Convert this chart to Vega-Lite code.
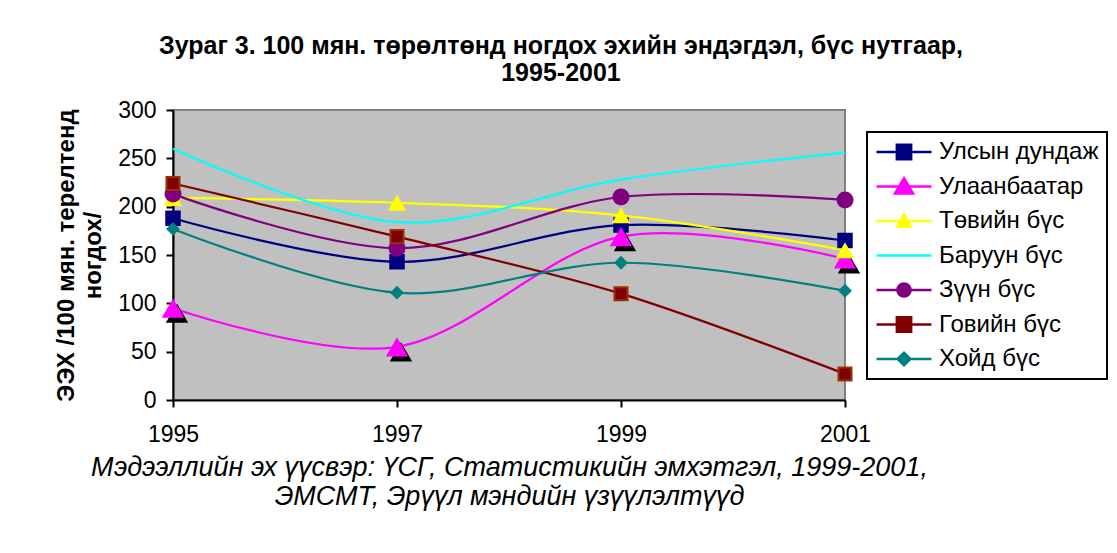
{
  "$schema": "https://vega.github.io/schema/vega-lite/v6.json",
  "width": 672,
  "height": 290,
  "autosize": {"type": "none"},
  "padding": {"left": 173, "top": 110, "right": 272, "bottom": 153},
  "background": "white",
  "title": {
    "text": ["Зураг 3. 100 мян. төрөлтөнд ногдох эхийн эндэгдэл, бүс нутгаар,", "1995-2001"],
    "font": "Liberation Sans",
    "fontSize": 25,
    "fontWeight": "bold",
    "lineHeight": 27,
    "color": "black",
    "anchor": "middle",
    "frame": "group",
    "dx": 52,
    "offset": 13
  },
  "data": {
    "values": [
      {"year": "1995", "series": "Улсын дундаж", "value": 188},
      {"year": "1997", "series": "Улсын дундаж", "value": 143},
      {"year": "1999", "series": "Улсын дундаж", "value": 181},
      {"year": "2001", "series": "Улсын дундаж", "value": 165},
      {"year": "1995", "series": "Улаанбаатар", "value": 95},
      {"year": "1997", "series": "Улаанбаатар", "value": 55},
      {"year": "1999", "series": "Улаанбаатар", "value": 169},
      {"year": "2001", "series": "Улаанбаатар", "value": 146},
      {"year": "1995", "series": "Төвийн бүс", "value": 209},
      {"year": "1997", "series": "Төвийн бүс", "value": 204},
      {"year": "1999", "series": "Төвийн бүс", "value": 191},
      {"year": "2001", "series": "Төвийн бүс", "value": 155},
      {"year": "1995", "series": "Баруун бүс", "value": 260},
      {"year": "1997", "series": "Баруун бүс", "value": 184},
      {"year": "1999", "series": "Баруун бүс", "value": 228},
      {"year": "2001", "series": "Баруун бүс", "value": 256},
      {"year": "1995", "series": "Зүүн бүс", "value": 213},
      {"year": "1997", "series": "Зүүн бүс", "value": 157},
      {"year": "1999", "series": "Зүүн бүс", "value": 210},
      {"year": "2001", "series": "Зүүн бүс", "value": 207},
      {"year": "1995", "series": "Говийн бүс", "value": 224},
      {"year": "1997", "series": "Говийн бүс", "value": 169},
      {"year": "1999", "series": "Говийн бүс", "value": 110},
      {"year": "2001", "series": "Говийн бүс", "value": 27},
      {"year": "1995", "series": "Хойд бүс", "value": 177},
      {"year": "1997", "series": "Хойд бүс", "value": 111},
      {"year": "1999", "series": "Хойд бүс", "value": 142},
      {"year": "2001", "series": "Хойд бүс", "value": 113}
    ]
  },
  "encoding": {
    "x": {
      "field": "year",
      "type": "ordinal",
      "scale": {"type": "point", "padding": 0},
      "axis": {
        "labelAngle": 0,
        "labelPadding": 16,
        "title": ["Мэдээллийн эх үүсвэр: ҮСГ, Статистикийн эмхэтгэл, 1999-2001,", "ЭМСМТ, Эрүүл мэндийн үзүүлэлтүүд"],
        "titleFontStyle": "italic",
        "titleFontWeight": "normal",
        "titleFontSize": 27,
        "titleLineHeight": 29,
        "titlePadding": 8
      }
    },
    "y": {
      "field": "value",
      "type": "quantitative",
      "scale": {"domain": [0, 300], "nice": false},
      "axis": {
        "values": [0, 50, 100, 150, 200, 250, 300],
        "labelPadding": 10,
        "title": ["ЭЭХ /100 мян. терелтенд", "ногдох/"],
        "titleFontWeight": "bold",
        "titleFontSize": 24,
        "titleLineHeight": 27,
        "titlePadding": 12
      }
    }
  },
  "layer": [
    {
      "mark": {"type": "line", "interpolate": "cardinal", "tension": 0, "strokeWidth": 2.2},
      "encoding": {
        "color": {
          "field": "series",
          "type": "nominal",
          "sort": null,
          "scale": {
            "domain": ["Улсын дундаж", "Улаанбаатар", "Төвийн бүс", "Баруун бүс", "Зүүн бүс", "Говийн бүс", "Хойд бүс"],
            "range": ["#000080", "#FF00FF", "#FFFF00", "#00FFFF", "#800080", "#800000", "#008080"]
          },
          "legend": {
            "orient": "none",
            "legendX": 694,
            "legendY": 22,
            "title": null,
            "padding": 8,
            "strokeColor": "black",
            "fillColor": "white",
            "labelFont": "Liberation Sans",
            "labelFontSize": 24,
            "labelColor": "black",
            "labelOffset": 6,
            "symbolSize": 3025,
            "clipHeight": 24,
            "rowPadding": 10.5,
            "encode": {
              "legend": {"update": {"strokeWidth": {"value": 2}}},
              "symbols": {
                "update": {
                  "shape": {"signal": "datum.value === 'Улсын дундаж' ? 'M-1,0H1M-0.26,-0.26H0.26V0.26H-0.26Z' : datum.value === 'Улаанбаатар' ? 'M-1,0H1M0,-0.3L0.33,0.25H-0.33Z' : datum.value === 'Төвийн бүс' ? 'M-1,0H1M0,-0.24L0.24,0.21H-0.24Z' : datum.value === 'Баруун бүс' ? 'M-1,0H1' : datum.value === 'Зүүн бүс' ? 'M-1,0H1M-0.24,0A0.24,0.24,0,1,0,0.24,0A0.24,0.24,0,1,0,-0.24,0Z' : datum.value === 'Говийн бүс' ? 'M-1,0H1M-0.26,-0.26H0.26V0.26H-0.26Z' : 'M-1,0H1M-0.23,0L0,-0.23L0.23,0L0,0.23Z'"},
                  "fill": {"signal": "datum.value === 'Улсын дундаж' ? '#000080' : datum.value === 'Улаанбаатар' ? '#FF00FF' : datum.value === 'Төвийн бүс' ? '#FFFF00' : datum.value === 'Баруун бүс' ? 'transparent' : datum.value === 'Зүүн бүс' ? '#800080' : datum.value === 'Говийн бүс' ? '#800000' : '#008080'"},
                  "strokeWidth": {"value": 2.5},
                  "opacity": {"value": 1}
                }
              }
            }
          }
        }
      }
    },
    {
      "transform": [{"filter": "datum.series === 'Улсын дундаж'"}],
      "mark": {"type": "point", "shape": "square", "filled": true, "fill": "#000080", "opacity": 1, "size": 240, "strokeWidth": 0}
    },
    {
      "transform": [{"filter": "datum.series === 'Улаанбаатар'"}],
      "mark": {"type": "point", "shape": "triangle-up", "filled": true, "fill": "black", "opacity": 1, "size": 500, "strokeWidth": 0, "xOffset": 4, "yOffset": 5}
    },
    {
      "transform": [{"filter": "datum.series === 'Улаанбаатар'"}],
      "mark": {"type": "point", "shape": "triangle-up", "filled": true, "fill": "#FF00FF", "opacity": 1, "size": 500, "strokeWidth": 0}
    },
    {
      "transform": [{"filter": "datum.series === 'Төвийн бүс'"}],
      "mark": {"type": "point", "shape": "triangle-up", "filled": true, "fill": "#FFFF00", "opacity": 1, "size": 340, "strokeWidth": 0}
    },
    {
      "transform": [{"filter": "datum.series === 'Зүүн бүс'"}],
      "mark": {"type": "point", "shape": "circle", "filled": true, "fill": "#800080", "opacity": 1, "size": 290, "strokeWidth": 0}
    },
    {
      "transform": [{"filter": "datum.series === 'Говийн бүс'"}],
      "mark": {"type": "point", "shape": "square", "filled": true, "fill": "#800000", "stroke": "#993300", "opacity": 1, "size": 170, "strokeWidth": 2}
    },
    {
      "transform": [{"filter": "datum.series === 'Хойд бүс'"}],
      "mark": {"type": "point", "shape": "diamond", "filled": true, "fill": "#008080", "opacity": 1, "size": 190, "strokeWidth": 0}
    }
  ],
  "config": {
    "font": "Liberation Sans",
    "view": {"fill": "#C0C0C0", "stroke": "#808080", "strokeWidth": 2},
    "axis": {
      "domainColor": "black",
      "domainWidth": 2,
      "tickColor": "black",
      "tickWidth": 2,
      "tickSize": 7,
      "grid": false,
      "labelFont": "Liberation Sans",
      "labelFontSize": 23,
      "labelColor": "black",
      "titleFont": "Liberation Sans",
      "titleColor": "black"
    }
  }
}
